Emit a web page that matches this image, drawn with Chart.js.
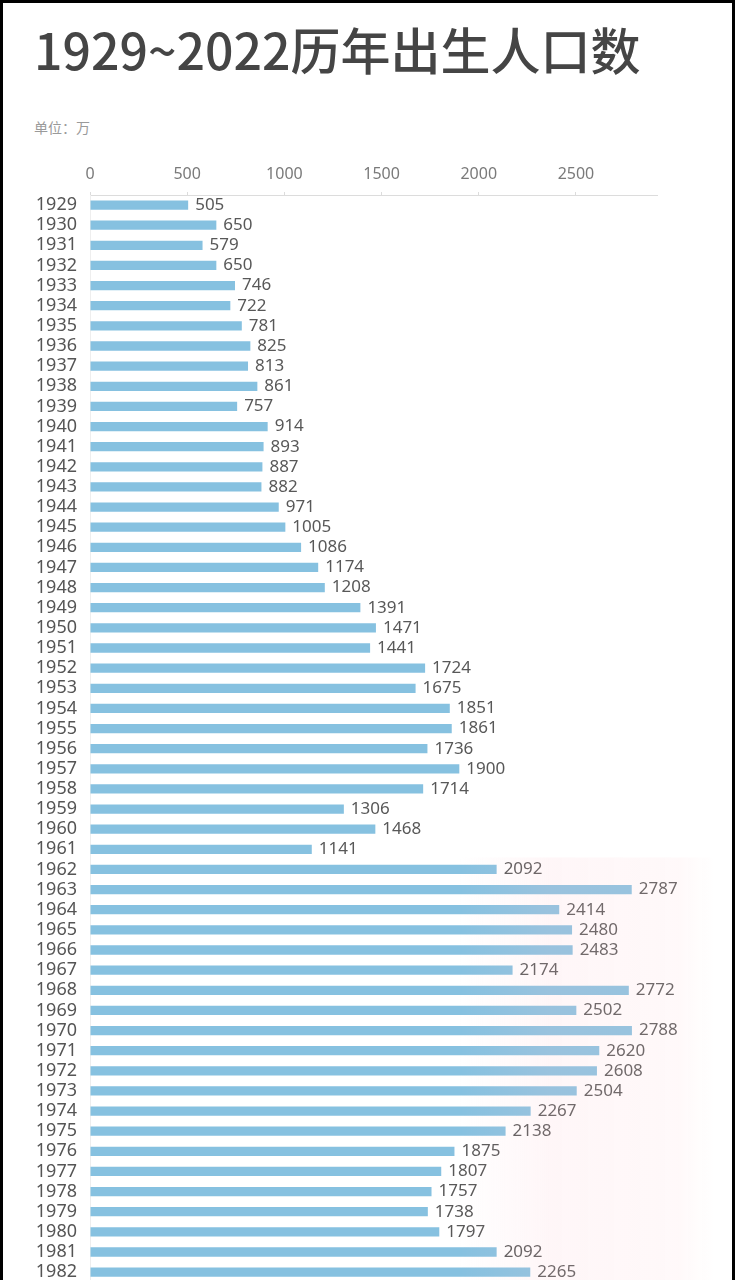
<!DOCTYPE html>
<html>
<head>
<meta charset="utf-8">
<script src="https://cdn.jsdelivr.net/npm/chart.js@4"></script>
<style>
  body { margin: 0; background: #000; width: 735px; height: 1280px; overflow: hidden; }
  #panel { position: absolute; left: 3px; top: 3px; width: 729px; height: 1300px; background: #fff; }
  #title { position: absolute; left: 34px; top: 18px; font-family: "Noto Sans CJK SC", "Noto Sans"; font-weight: 500; font-size: 50px; line-height: 60px; color: #454545; }
  #unit { position: absolute; left: 34px; top: 117px; font-family: "Noto Sans CJK SC"; font-size: 14px; color: #9a9a9a; }
  #wrap { position: absolute; left: 0; top: 151px; width: 735px; height: 1147px; }
</style>
</head>
<body>
<div id="panel"></div>
<div id="title">1929~2022历年出生人口数</div>
<div id="unit">单位：万</div>
<div id="wrap"><canvas id="myChart"></canvas></div>
<script>
var years = ['1929', '1930', '1931', '1932', '1933', '1934', '1935', '1936', '1937', '1938',
    '1939', '1940', '1941', '1942', '1943', '1944', '1945', '1946', '1947', '1948',
    '1949', '1950', '1951', '1952', '1953', '1954', '1955', '1956', '1957', '1958',
    '1959', '1960', '1961', '1962', '1963', '1964', '1965', '1966', '1967', '1968',
    '1969', '1970', '1971', '1972', '1973', '1974', '1975', '1976', '1977', '1978',
    '1979', '1980', '1981', '1982'];
var births = [505, 650, 579, 650, 746, 722, 781, 825, 813, 861,
    757, 914, 893, 887, 882, 971, 1005, 1086, 1174, 1208,
    1391, 1471, 1441, 1724, 1675, 1851, 1861, 1736, 1900, 1714,
    1306, 1468, 1141, 2092, 2787, 2414, 2480, 2483, 2174, 2772,
    2502, 2788, 2620, 2608, 2504, 2267, 2138, 1875, 1807, 1757,
    1738, 1797, 2092, 2265];
var tickValues = [0, 500, 1000, 1500, 2000, 2500];

// writes the number at the end of each bar
var valueLabels = {
    id: 'valueLabels',
    afterDatasetsDraw: function (chart) {
        var ctx = chart.ctx;
        var meta = chart.getDatasetMeta(0);
        ctx.save();
        ctx.font = '17px "Noto Sans"';
        ctx.fillStyle = '#585858';
        ctx.textBaseline = 'middle';
        ctx.textAlign = 'left';
        meta.data.forEach(function (bar, i) {
            ctx.fillText(births[i], bar.x + 7, bar.y);
        });
        ctx.restore();
    }
};

// faint pink cast over the lower right, as in the photo
var pinkCast = {
    id: 'pinkCast',
    afterDraw: function (chart) {
        var ctx = chart.ctx;
        var area = chart.chartArea;
        var x = chart.scales.x.getPixelForValue(1900);
        var y0 = chart.scales.y.getPixelForValue(33) - 12;
        ctx.save();
        var g = ctx.createLinearGradient(x, 0, area.right + 60, 0);
        g.addColorStop(0, 'rgba(255,200,210,0)');
        g.addColorStop(0.35, 'rgba(255,200,210,0.16)');
        g.addColorStop(0.85, 'rgba(255,210,215,0.14)');
        g.addColorStop(1, 'rgba(255,220,220,0)');
        ctx.fillStyle = g;
        ctx.fillRect(x, y0, area.right + 60 - x, area.bottom - y0);
        ctx.restore();
    }
};

var ctx = document.getElementById('myChart').getContext('2d');
var chart = new Chart(ctx, {
    type: 'bar',
    data: {
        labels: years,
        datasets: [{
            label: '出生人口',
            data: births,
            backgroundColor: '#86c1e0',
            barPercentage: 0.46,
            categoryPercentage: 1
        }]
    },
    options: {
        indexAxis: 'y',
        responsive: true,
        maintainAspectRatio: false,
        animation: false,
        layout: { padding: { left: 0, right: 78, top: 0, bottom: 0 } },
        plugins: { legend: { display: false }, tooltip: { enabled: false } },
        scales: {
            x: {
                position: 'top',
                min: 0,
                max: 2917,
                afterBuildTicks: function (scale) {
                    scale.ticks = tickValues.map(function (v) { return { value: v }; });
                },
                afterFit: function (scale) { scale.height = 44; },
                grid: { drawOnChartArea: false, color: '#dcdcdc', tickLength: 3 },
                border: { color: '#dcdcdc' },
                ticks: {
                    color: '#7a7a7a', font: { family: 'Noto Sans', size: 16 }, padding: 8, maxRotation: 0,
                    callback: function (v) { return String(v); }
                }
            },
            y: {
                afterFit: function (scale) { scale.width = 90; },
                grid: { display: false },
                border: { color: '#eeeeee' },
                ticks: { autoSkip: false, color: '#555', font: { family: 'Noto Sans', size: 18 }, padding: 5 }
            }
        }
    },
    plugins: [valueLabels, pinkCast]
});
</script>
</body>
</html>
